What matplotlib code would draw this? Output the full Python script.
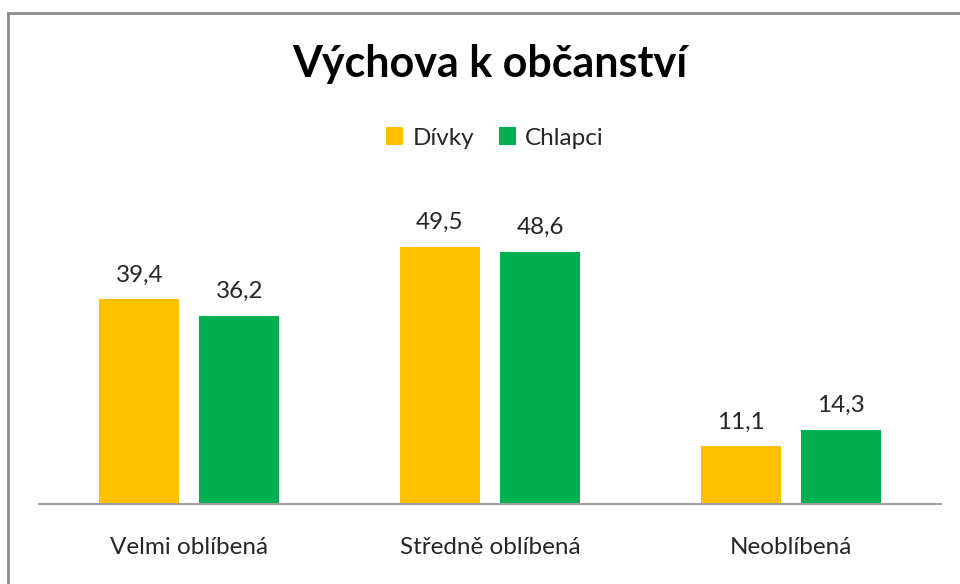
import numpy as np
import matplotlib
matplotlib.use("Agg")
import matplotlib.pyplot as plt
from matplotlib.lines import Line2D

plt.rcParams['font.family'] = ['Lato', 'DejaVu Sans']

# data
categories = ["Velmi oblíbená", "Středně oblíbená", "Neoblíbená"]
divky = [39.4, 49.5, 11.1]
chlapci = [36.2, 48.6, 14.3]
series_names = ["Dívky", "Chlapci"]
colors = ["#FFC000", "#00B050"]

fig = plt.figure(figsize=(9.6, 5.84), dpi=100)
ax = fig.add_axes([39/960, 80/584, 902/960, 311.7/584])

x = np.arange(len(categories))
w = 80/300.7
off = 50/300.7
b1 = ax.bar(x - off, divky, w, color=colors[0], label=series_names[0])
b2 = ax.bar(x + off, chlapci, w, color=colors[1], label=series_names[1])

# data labels
for bars, vals in ((b1, divky), (b2, chlapci)):
    for rect, v in zip(bars, vals):
        ax.annotate(f"{v:.1f}".replace(".", ","),
                    (rect.get_x() + rect.get_width()/2, rect.get_height()),
                    xytext=(0, 10), textcoords="offset points",
                    ha="center", va="bottom", fontsize=17.5, color="#262626")

ax.set_xlim(-0.5, 2.5)
ax.set_ylim(0, 60)
ax.set_xticks(x)
ax.set_xticklabels(categories, fontsize=17.5, color="#262626")
ax.tick_params(axis="x", length=0, pad=24)
ax.set_yticks([])
for s in ("left", "right", "top"):
    ax.spines[s].set_visible(False)
ax.spines["bottom"].set_color("#A0A0A0")
ax.spines["bottom"].set_linewidth(1.5)

fig.text(490/960, 1 - 64/584, "Výchova k občanství", ha="center", va="center",
         fontsize=31, fontweight="bold", color="black")

fig.legend(handles=[b1, b2], labels=series_names, loc="center",
           bbox_to_anchor=(495/960, 1 - 138/584), ncol=2, frameon=False,
           fontsize=17.5, handlelength=0.7, handleheight=0.7, handletextpad=0.4,
           columnspacing=1.0, labelcolor="#262626")

# chart border
fig.add_artist(Line2D([8/960, 8/960], [0, 1 - 13/584], color="#8C8C8C", lw=2))
fig.add_artist(Line2D([8/960, 1], [1 - 13/584, 1 - 13/584], color="#8C8C8C", lw=2))

fig.savefig("out.png", dpi=100, facecolor="white")
